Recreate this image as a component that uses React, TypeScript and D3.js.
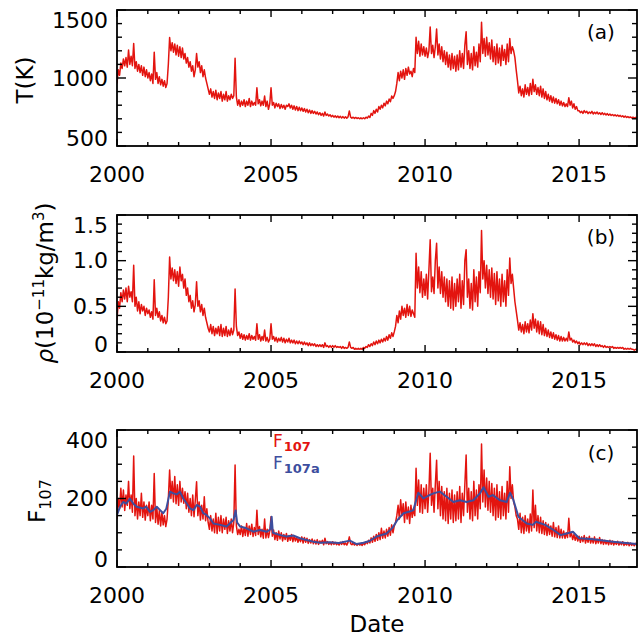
import React from 'react';
import * as d3 from 'd3';

// ---- data (sampled every 1/24 year starting 2000.0) ----
const START_YEAR = 2000;
const SAMPLES_PER_YEAR = 24;

const tempK = [
  960,1060,1020,1110,1070,1140,1090,1150,1080,1205,1100,1160,1090,1254,1070,1120,1050,1100,1040,1090,1020,1080,1010,1060,
  1000,1040,980,1030,960,1190,990,1040,960,1010,950,990,940,980,930,960,1100,1297,1200,1260,1190,1250,1170,1240,
  1160,1230,1150,1220,1140,1180,1110,1150,1080,1120,1050,1090,1010,1060,1180,1080,1120,1040,1090,1010,1060,1000,960,920,
  880,920,860,900,850,910,840,890,850,900,830,880,840,900,830,870,840,880,850,870,1145,860,800,840,
  790,830,800,840,790,830,800,850,790,830,800,820,800,928,810,840,795,830,800,867,790,830,770,810,
  928,800,820,780,815,790,810,775,805,780,800,770,800,790,810,780,800,770,795,765,790,760,785,760,
  780,755,775,750,770,745,765,740,760,740,755,735,750,730,745,725,740,720,750,725,735,720,730,715,
  725,712,722,710,720,708,718,706,716,705,715,705,714,758,712,705,712,703,710,702,708,700,707,700,
  708,700,712,705,720,710,740,725,760,740,770,750,790,770,800,780,815,795,830,810,845,825,867,850,
  870,900,960,1040,980,1050,1000,1060,990,1070,1020,1080,1030,1050,1010,1070,1040,1300,1180,1270,1160,1250,1170,1230,
  1160,1220,1150,1200,1375,1180,1240,1150,1230,1360,1170,1250,1140,1230,1120,1200,1100,1190,1080,1170,1060,1180,1070,1160,
  1050,1170,1060,1200,1080,1180,1070,1240,1340,1100,1200,1070,1180,1060,1230,1090,1190,1080,1250,1120,1410,1180,1290,1160,
  1300,1170,1260,1140,1280,1120,1230,1100,1250,1110,1220,1090,1240,1130,1210,1100,1250,1120,1290,1180,1230,1200,1150,1060,
  980,890,940,870,920,860,950,880,930,870,960,880,990,900,950,880,930,870,940,860,920,850,900,840,
  880,830,870,820,860,815,850,810,840,800,830,795,820,790,810,790,855,800,830,780,810,770,790,760,
  760,745,755,740,760,745,755,738,750,740,755,735,748,738,750,735,745,732,745,730,740,728,738,726,
  735,724,732,722,730,720,728,718,725,715,722,712,720,710,716,708,714,706,712,704,710,703,
];

const rhoVals = [
  .35,.55,.48,.65,.55,.68,.58,.70,.55,.72,.60,.66,.55,.95,.50,.60,.45,.55,.42,.52,.45,.50,.40,.48,
  .42,.46,.38,.44,.36,.79,.40,.48,.38,.44,.34,.40,.32,.38,.31,.34,.60,1.04,.80,.92,.78,.90,.75,.88,
  .72,.93,.78,.85,.70,.80,.62,.70,.55,.62,.48,.56,.44,.52,.77,.50,.56,.44,.52,.40,.48,.38,.32,.26,
  .22,.30,.20,.28,.18,.26,.20,.28,.18,.30,.17,.26,.18,.28,.17,.24,.18,.26,.19,.24,.69,.28,.18,.22,
  .15,.20,.14,.19,.13,.18,.14,.20,.13,.18,.14,.17,.13,.31,.14,.19,.12,.17,.13,.24,.12,.16,.11,.14,
  .31,.14,.17,.12,.16,.11,.15,.12,.16,.11,.15,.10,.14,.11,.15,.10,.13,.10,.13,.09,.12,.09,.12,.09,
  .11,.08,.11,.08,.10,.07,.10,.07,.09,.07,.09,.06,.08,.06,.08,.06,.08,.05,.10,.06,.07,.05,.07,.05,
  .07,.05,.07,.05,.06,.05,.06,.04,.06,.04,.05,.04,.05,.11,.05,.04,.05,.03,.04,.03,.04,.03,.04,.03,
  .05,.04,.06,.05,.08,.06,.09,.07,.11,.08,.12,.09,.13,.10,.14,.11,.15,.12,.17,.13,.19,.15,.21,.17,
  .22,.28,.40,.32,.45,.36,.50,.40,.48,.38,.52,.40,.50,.39,.46,.42,.38,1.08,.70,.93,.65,.88,.60,.80,
  .62,.85,.58,.90,1.23,.66,.82,.64,1.0,1.19,.70,.93,.64,.88,.60,.82,.55,.80,.50,.78,.48,.82,.46,.75,
  .50,.80,.55,.85,.48,.78,.52,1.0,1.12,.60,.80,.48,.75,.46,.90,.55,.82,.50,.88,.65,1.33,.80,1.0,.70,
  .95,.64,.90,.60,.92,.58,.86,.52,.88,.56,.80,.50,.85,.55,.78,.50,.90,.62,1.03,.75,.85,.70,.55,.45,
  .35,.24,.32,.22,.30,.20,.33,.22,.31,.21,.35,.24,.42,.26,.36,.22,.34,.20,.33,.19,.30,.18,.26,.17,
  .24,.16,.22,.15,.21,.14,.19,.13,.18,.12,.17,.12,.16,.12,.15,.12,.22,.13,.15,.11,.13,.10,.12,.09,
  .11,.08,.10,.08,.10,.08,.10,.07,.09,.07,.09,.07,.09,.06,.08,.06,.08,.06,.07,.05,.07,.05,.06,.05,
  .06,.05,.06,.04,.05,.04,.05,.04,.05,.04,.05,.03,.04,.03,.04,.03,.04,.03,.03,.02,.03,.02,
];

const f107 = [
  140,200,170,230,175,225,165,210,180,250,170,210,160,324,150,200,140,190,150,215,145,190,137,180,
  150,190,135,180,140,273,130,175,125,165,120,160,123,150,118,140,200,283,200,250,190,264,185,240,
  180,250,190,230,186,220,170,215,160,200,150,210,147,195,249,150,190,137,180,140,205,135,170,130,
  110,150,105,140,100,157,98,145,105,150,100,140,110,145,98,135,105,140,100,130,298,120,95,110,
  95,120,89,115,92,127,90,120,95,125,89,115,92,166,95,118,88,110,84,140,85,110,86,105,
  147,90,108,80,100,78,105,82,100,76,95,80,98,75,92,78,95,74,90,76,88,72,85,74,
  88,70,86,72,84,69,80,70,82,68,78,67,80,66,76,70,78,65,84,68,74,66,72,65,
  74,66,72,65,70,64,72,66,74,65,70,64,72,88,68,65,70,64,68,63,68,64,67,63,
  70,65,74,68,78,70,85,72,90,75,95,78,100,80,113,84,105,85,110,90,115,93,123,100,
  120,130,150,180,140,196,150,185,130,190,140,175,127,180,145,170,150,288,180,254,160,240,157,230,
  170,240,160,220,332,180,230,160,240,312,170,250,150,235,140,220,135,230,127,215,140,225,130,210,
  135,220,140,235,130,215,150,240,327,160,230,140,220,135,250,150,225,140,240,170,359,190,283,175,
  260,166,250,160,244,150,230,137,240,145,220,140,235,150,215,140,250,160,293,200,240,190,176,150,
  140,110,157,100,145,98,150,105,140,100,155,105,225,115,180,105,150,100,145,98,135,95,130,92,
  125,95,120,90,130,88,115,86,120,85,110,85,105,84,100,86,142,88,100,80,95,78,92,76,
  90,72,88,74,92,70,86,72,90,70,84,70,88,68,82,70,86,68,80,66,78,67,76,65,
  78,66,76,64,74,66,75,64,72,65,74,63,70,64,72,62,70,63,68,62,69,62,
];

const f107aYears = [
  2000.0,2000.1,2000.2,2000.3,2000.42,2000.53,2000.64,2000.85,2000.95,2001.07,2001.18,2001.29,2001.4,2001.5,2001.6,
  2001.72,2001.83,2001.94,2002.04,2002.15,2002.26,2002.37,2002.48,2002.59,2002.7,2002.8,2002.9,2003.02,2003.13,2003.35,
  2003.56,2003.78,2003.85,2003.9,2004.0,2004.2,2004.43,2004.64,2004.86,2004.98,2005.02,2005.06,2005.3,2005.5,2005.72,
  2005.94,2006.15,2006.37,2006.6,2006.9,2007.2,2007.56,2007.78,2008.0,2008.2,2008.43,2008.75,2008.95,2009.1,2009.3,
  2009.5,2009.62,2009.78,2009.95,2010.1,2010.27,2010.48,2010.7,2010.92,2011.13,2011.35,2011.57,2011.78,2011.9,2012.06,
  2012.2,2012.43,2012.65,2012.76,2012.87,2013.03,2013.3,2013.5,2013.6,2013.9,2014.17,2014.4,2014.6,2014.8,2015.0,
  2015.45,2016.1,2016.87,
];
const f107aVals = [
  152,176,190,185,200,185,176,171,176,161,166,176,166,157,170,
  220,215,212,220,200,186,171,166,181,176,157,152,142,127,123,
  118,137,165,130,118,113,103,108,103,110,147,100,93,89,92,
  84,79,74,71,72,70,77,67,71,76,89,98,115,137,157,
  162,166,217,200,208,215,220,205,190,195,190,195,215,233,205,
  210,195,190,217,195,147,127,123,132,123,108,93,98,103,84,
  81,74,67,
];

const yearMajorTicks = [2000, 2005, 2010, 2015];
const yearMinorTicks = [2001,2002,2003,2004,2006,2007,2008,2009,2011,2012,2013,2014,2016];

const tempTicks = [500, 1000, 1500];
const tempTickLabels = ['500', '1000', '1500'];
const rhoTicks = [0, 0.5, 1.0, 1.5];
const rhoTickLabels = ['0', '0.5', '1.0', '1.5'];
const f107Ticks = [0, 200, 400];
const f107TickLabels = ['0', '200', '400'];

// ---- layout ----
const W = 640, H = 637;
const X0 = 117, X1 = 637;
const RED = '#e3140f';
const BLUE = '#3d4e9e';
const FONT = "'DejaVu Sans', sans-serif";

const x = d3.scaleLinear().domain([2000, 2016.88]).range([X0, X1]);

function toPairs(vals: number[]): [number, number][] {
  return vals.map((v, i) => [START_YEAR + i / SAMPLES_PER_YEAR, v]);
}

type PanelProps = {
  id: string;
  top: number;
  bottom: number;
  domain: [number, number];
  minorStep: number;
  majors: number[];
  labels: string[];
  tag: string;
  tagY: number;
  children: (y: d3.ScaleLinear<number, number>) => React.ReactNode;
};

function Panel({ id, top, bottom, domain, minorStep, majors, labels, tag, tagY, children }: PanelProps) {
  const y = d3.scaleLinear().domain(domain).range([bottom, top]);
  const minors: number[] = [];
  const n = Math.round((domain[1] - domain[0]) / minorStep);
  for (let i = 1; i < n; i++) {
    const v = domain[0] + i * minorStep;
    if (!majors.some((m) => Math.abs(m - v) < 1e-9)) minors.push(v);
  }
  const majorLen = 9, minorLen = 5;
  const xMajLen = 7, xMinLen = 4;
  return (
    <g>
      <defs>
        <clipPath id={`clip-${id}`}>
          <rect x={X0} y={top} width={X1 - X0} height={bottom - top} />
        </clipPath>
      </defs>
      <g clipPath={`url(#clip-${id})`}>{children(y)}</g>
      <rect x={X0} y={top} width={X1 - X0} height={bottom - top} fill="none" stroke="#000" strokeWidth={1.8} />
      {minors.map((v) => (
        <g key={`mn${v}`}>
          <line x1={X0} x2={X0 + minorLen} y1={y(v)} y2={y(v)} stroke="#000" strokeWidth={1.4} />
          <line x1={X1} x2={X1 - minorLen} y1={y(v)} y2={y(v)} stroke="#000" strokeWidth={1.4} />
        </g>
      ))}
      {majors.map((v) => (
        <g key={`mj${v}`}>
          <line x1={X0} x2={X0 + majorLen} y1={y(v)} y2={y(v)} stroke="#000" strokeWidth={1.4} />
          <line x1={X1} x2={X1 - majorLen} y1={y(v)} y2={y(v)} stroke="#000" strokeWidth={1.4} />
        </g>
      ))}
      {majors.map((v, i) => (
        <text
          key={`lb${v}`}
          x={108}
          y={Math.min(Math.max(y(v), top + 10), bottom - 7.5)}
          textAnchor="end"
          dominantBaseline="central"
          fontSize={22}
          fontFamily={FONT}
        >
          {labels[i]}
        </text>
      ))}
      {yearMinorTicks.map((t) => (
        <g key={`xm${t}`}>
          <line x1={x(t)} x2={x(t)} y1={bottom} y2={bottom - xMinLen} stroke="#000" strokeWidth={1.4} />
          <line x1={x(t)} x2={x(t)} y1={top} y2={top + xMinLen} stroke="#000" strokeWidth={1.4} />
        </g>
      ))}
      {yearMajorTicks.map((t) => (
        <g key={`xM${t}`}>
          <line x1={x(t)} x2={x(t)} y1={bottom} y2={bottom - xMajLen} stroke="#000" strokeWidth={1.4} />
          <line x1={x(t)} x2={x(t)} y1={top} y2={top + xMajLen} stroke="#000" strokeWidth={1.4} />
          <text x={x(t)} y={bottom + 36} textAnchor="middle" fontSize={22} fontFamily={FONT}>
            {String(t)}
          </text>
        </g>
      ))}
      <text x={601} y={tagY} textAnchor="middle" fontSize={20} fontFamily={FONT}>
        {tag}
      </text>
    </g>
  );
}

export default function App() {
  const line = (y: d3.ScaleLinear<number, number>) =>
    d3
      .line<[number, number]>()
      .x((d) => x(d[0]))
      .y((d) => y(d[1]));

  const tPairs = toPairs(tempK);
  const rPairs = toPairs(rhoVals);
  const fPairs = toPairs(f107);
  const faPairs: [number, number][] = f107aYears.map((yr, i) => [yr, f107aVals[i]]);

  return (
    <svg
      width={W}
      height={H}
      viewBox={`0 0 ${W} ${H}`}
      style={{ position: 'absolute', left: 0, top: 0, background: '#fff' }}
    >
      <rect x={0} y={0} width={W} height={H} fill="#fff" />
      <Panel id="a" top={10} bottom={146} domain={[500, 1500]} minorStep={100} majors={tempTicks} labels={tempTickLabels} tag="(a)" tagY={39}>
        {(y) => <path d={line(y)(tPairs) || ''} fill="none" stroke={RED} strokeWidth={1.5} strokeLinejoin="round" />}
      </Panel>
      <Panel id="b" top={215} bottom={352} domain={[0, 1.5]} minorStep={0.1} majors={rhoTicks} labels={rhoTickLabels} tag="(b)" tagY={244}>
        {(y) => <path d={line(y)(rPairs) || ''} fill="none" stroke={RED} strokeWidth={1.5} strokeLinejoin="round" />}
      </Panel>
      <Panel id="c" top={430} bottom={567} domain={[0, 400]} minorStep={50} majors={f107Ticks} labels={f107TickLabels} tag="(c)" tagY={460}>
        {(y) => (
          <g>
            <path d={line(y)(fPairs) || ''} fill="none" stroke={RED} strokeWidth={1.5} strokeLinejoin="round" />
            <path d={line(y)(faPairs) || ''} fill="none" stroke={BLUE} strokeWidth={2} strokeLinejoin="round" />
          </g>
        )}
      </Panel>

      <text transform="translate(33,80) rotate(-90)" textAnchor="middle" fontSize={23} fontFamily={FONT}>
        T(K)
      </text>
      <text transform="translate(53,283) rotate(-90)" textAnchor="middle" fontSize={23} fontFamily={FONT}>
        <tspan fontStyle="italic">ρ</tspan>
        <tspan>(10</tspan>
        <tspan dy={-9} fontSize={15}>−11</tspan>
        <tspan dy={9}>kg/m</tspan>
        <tspan dy={-9} fontSize={15}>3</tspan>
        <tspan dy={9}>)</tspan>
      </text>
      <text transform="translate(45,501) rotate(-90)" textAnchor="middle" fontSize={23} fontFamily={FONT}>
        <tspan>F</tspan>
        <tspan dy={6} fontSize={16}>107</tspan>
      </text>

      <text x={273} y={447} fontSize={17} fontFamily={FONT} fill={RED}>
        <tspan>F</tspan>
        <tspan dx={1} dy={4} fontSize={13} fontWeight="bold">107</tspan>
      </text>
      <text x={273} y={469} fontSize={17} fontFamily={FONT} fill={BLUE}>
        <tspan>F</tspan>
        <tspan dx={1} dy={4} fontSize={13} fontWeight="bold">107a</tspan>
      </text>

      <text x={377} y={632} textAnchor="middle" fontSize={23} fontFamily={FONT}>
        Date
      </text>
    </svg>
  );
}
